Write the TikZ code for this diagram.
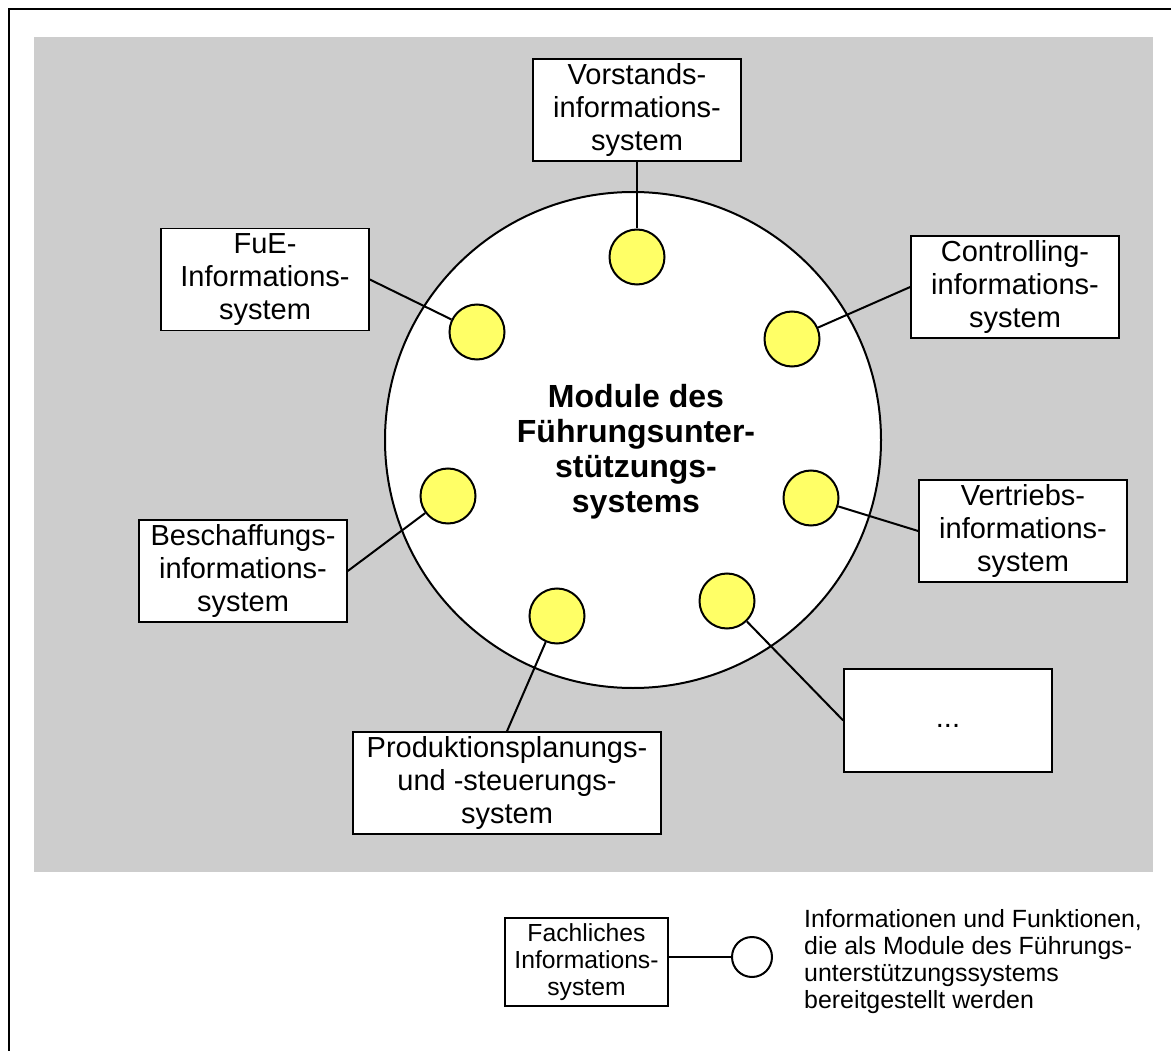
\documentclass[tikz,border=0pt]{standalone}
\usepackage{fontspec}
\setmainfont{Liberation Sans}
\definecolor{hgrau}{RGB}{205,205,205}
\definecolor{modgelb}{RGB}{255,255,102}

\begin{document}
\begin{tikzpicture}[x=1pt, y=-1pt,
    sysbox/.style={draw=black, fill=white, line width=1.6pt, inner sep=0pt, align=center,
                   minimum width=208pt, minimum height=102pt, font=\fontsize{29}{33}\selectfont},
    modul/.style={circle, draw=black, fill=modgelb, line width=2pt, minimum size=55pt, inner sep=0pt},
    verb/.style={line width=2pt}]
% Rahmen und grauer Hintergrund
\useasboundingbox (0,0) rectangle (1171,1051);
\fill[hgrau] (34,37) rectangle (1153,872);
\draw[line width=2.5pt] (9,1070) -- (9,9) -- (1190,9);
% Kern: Fuehrungsunterstuetzungssystem
\node[circle, draw=black, fill=white, line width=2pt, minimum size=496pt, inner sep=0pt] (kern) at (633,440) {};
\node[font=\fontsize{32}{35}\selectfont\bfseries, align=center] (titel) at (636,452)
    {Module des\\Führungsunter-\\stützungs-\\systems};
% Module (gelbe Kreise)
\foreach \n/\x/\y in {mo/637/257, mlo/477/332, mro/792/339, ml/448/496, mr/811/498, mlu/557/616, mru/727/601}
    \node[modul] (\n) at (\x,\y) {};
% Fachliche Informationssysteme
\node[sysbox] (vorst) at (637,110) {Vorstands-\\informations-\\system};
\node[sysbox] (fue) at (265,279.5) {FuE-\\Informations-\\system};
\node[sysbox] (contr) at (1015,287) {Controlling-\\informations-\\system};
\node[sysbox] (vertr) at (1023,531) {Vertriebs-\\informations-\\system};
\node[sysbox] (besch) at (243,571) {Beschaffungs-\\informations-\\system};
\node[sysbox, minimum width=308pt] (prod) at (507,783) {Produktionsplanungs-\\und -steuerungs-\\system};
\node[sysbox, minimum height=103pt] (weitere) at (948,720.5) {\vphantom{Ag}...};
% Verbindungen
\draw[verb] (vorst.south) -- (mo);
\draw[verb] (fue.east) -- (mlo);
\draw[verb] (contr.west) -- (mro);
\draw[verb] (vertr.west) -- (mr);
\draw[verb] (besch.east) -- (ml);
\draw[verb] (prod.north) -- (mlu);
\draw[verb] (weitere.west) -- (mru);
% Legende
\node[sysbox, minimum width=163pt, minimum height=88pt, font=\fontsize{24.7}{27}\selectfont] (fach) at (586.5,962)
    {Fachliches\\Informations-\\system};
\node[circle, draw=black, fill=white, line width=2pt, minimum size=40pt, inner sep=0pt] (leg) at (752,957) {};
\draw[verb] (fach.east |- leg.west) -- (leg.west);
\node[anchor=north west, align=left, inner sep=0pt, font=\fontsize{24.9}{27}\selectfont] (legtext) at (804,909)
    {Informationen und Funktionen,\\die als Module des Führungs-\\unterstützungssystems\\bereitgestellt werden};
\end{tikzpicture}
\end{document}
